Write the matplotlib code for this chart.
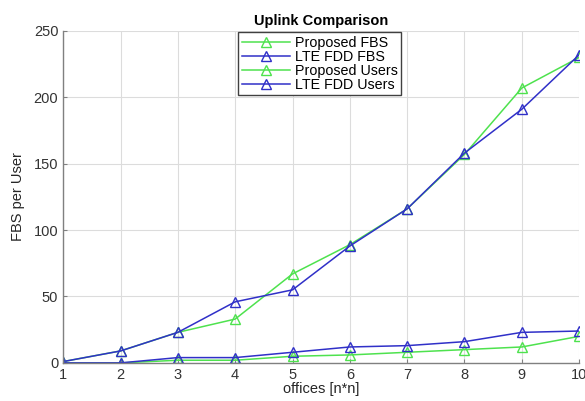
import matplotlib
matplotlib.use("Agg")
import matplotlib.pyplot as plt

offices = [1, 2, 3, 4, 5, 6, 7, 8, 9, 10]
proposed_fbs = [1, 9, 23, 33, 67, 89, 116, 157, 207, 230]
lte_fbs = [1, 9, 23, 46, 55, 88, 116, 158, 191, 232]
proposed_users = [0, 0, 2, 2, 5, 6, 8, 10, 12, 20]
lte_users = [0, 0, 4, 4, 8, 12, 13, 16, 23, 24]
yticks = [0, 50, 100, 150, 200, 250]

plt.rcParams['font.family'] = ['Liberation Sans', 'DejaVu Sans']

fig = plt.figure(figsize=(5.85, 4.01), dpi=100)
ax = fig.add_axes([0.108, 0.095, 0.882, 0.828])

green = '#4ee24e'
blue = '#3030c8'
kw = dict(marker='^', markerfacecolor='none', markersize=7.5, linewidth=1.1, markeredgewidth=1.0)
ax.plot(offices, proposed_fbs, color=green, label='Proposed FBS', **kw)
ax.plot(offices, lte_fbs, color=blue, label='LTE FDD FBS', **kw)
ax.plot(offices, proposed_users, color=green, label='Proposed Users', **kw)
ax.plot(offices, lte_users, color=blue, label='LTE FDD Users', **kw)

ax.set_xlim(1, 10)
ax.set_ylim(0, 250)
ax.set_xticks(offices)
ax.set_yticks(yticks)
ax.grid(True, color='#dcdcdc', linewidth=0.8)
ax.set_axisbelow(True)
for s in ['top', 'right']:
    ax.spines[s].set_visible(False)
for s in ['left', 'bottom']:
    ax.spines[s].set_color('#808080')
    ax.spines[s].set_linewidth(1.0)
ax.tick_params(direction='in', length=3, colors='#808080', labelcolor='#333333', labelsize=10.5)

ax.set_xlabel('offices [n*n]', fontsize=10.5, color='#262626', labelpad=0)
ax.set_ylabel('FBS per User', fontsize=10.5, color='#262626', labelpad=6)
ax.set_title('Uplink Comparison', fontsize=10.5, fontweight='bold', pad=4)

leg = ax.legend(loc='upper left', bbox_to_anchor=(0.339, 0.996), borderaxespad=0,
                fontsize=10.3, fancybox=False, framealpha=1, edgecolor='#404040',
                handlelength=3.4, labelspacing=0.0, borderpad=0.25, handletextpad=0.3)
leg.get_frame().set_linewidth(1.0)

fig.savefig('out.png', dpi=100)
